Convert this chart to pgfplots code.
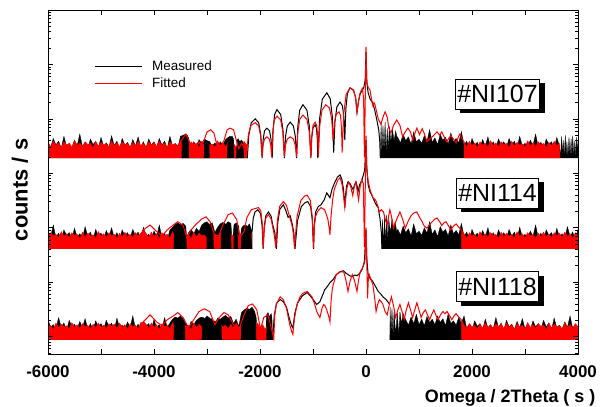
\documentclass[border=0pt]{standalone}
\usepackage{fontspec}
\setmainfont{Liberation Sans}
\usepackage{pgfplots}
\pgfplotsset{compat=1.18}
\usetikzlibrary{shadows}

\pgfplotsset{
    curve/.style={scale only axis, width=530bp, height=344bp,
        xmin=-6000, xmax=4000, hide axis, no markers},
    blkfill/.style={draw=black, fill=black, line width=0.3bp},
    blob/.style={draw=none, fill=black},
    redfill/.style={draw=red, fill=red, line width=0.3bp},
    blkline/.style={black, line width=1bp},
    redline/.style={red, line width=1bp},
}
\tikzset{lbl/.style={draw=black, fill=white, line width=0.6bp,
    font=\fontsize{25}{28}\selectfont, inner xsep=2bp, inner ysep=0bp,
    minimum height=30bp, text height=18bp, text depth=0bp,
    drop shadow={shadow xshift=5bp, shadow yshift=-4bp, fill=black, opacity=1}}}

\begin{document}
\begin{tikzpicture}

% #NI107 (y = log10 counts above its background)
\begin{axis}[curve, name=top, ymin=-3.60, ymax=2.72]
\addplot[blkfill] coordinates {(-6000,0) (-6000,0.30) (-5950,0.20) (-5900,0.36) (-5850,0.24) (-5800,0.31) (-5750,0.18) (-5700,0.40) (-5650,0.22) (-5600,0.27) (-5550,0.19) (-5500,0.33) (-5450,0.23) (-5400,0.44) (-5350,0.21) (-5300,0.29) (-5250,0.17) (-5200,0.35) (-5150,0.25) (-5100,0.30) (-5050,0.18) (-5000,0.38) (-4950,0.22) (-4900,0.28) (-4850,0.20) (-4800,0.41) (-4750,0.23) (-4700,0.31) (-4650,0.17) (-4600,0.36) (-4550,0.24) (-4500,0.29) (-4450,0.19) (-4400,0.34) (-4350,0.22) (-4300,0.39) (-4250,0.20) (-4200,0.30) (-4150,0.18) (-4100,0.35) (-4050,0.24) (-4000,0.30) (-3950,0.20) (-3900,0.36) (-3850,0.24) (-3800,0.31) (-3750,0.18) (-3700,0.40) (-3650,0.22) (-3600,0.27) (-3550,0.19) (-3500,0.40) (-3450,0.42) (-3400,0.44) (-3350,0.38) (-3300,0.17) (-3250,0.30) (-3200,0.22) (-3150,0.34) (-3100,0.27) (-3050,0.35) (-3000,0.32) (-2950,0.30) (-2900,0.22) (-2850,0.28) (-2800,0.20) (-2750,0.30) (-2700,0.24) (-2650,0.34) (-2600,0.38) (-2550,0.40) (-2500,0.36) (-2480,0) (-2440,0) (-2420,0.34) (-2380,0.30) (-2340,0.32) (-2300,0.22) (-2260,0.26) (-2240,0)};
\addplot[blkfill] coordinates {(270,0) (285,0.65) (300,0.05) (320,0.60) (340,0.10) (360,0.66) (380,0.08) (400,0.55) (420,0.15) (440,0.58) (470,0.30) (500,0.52) (530,0.32) (560,0.50) (580,0.40) (600,0.38) (650,0.28) (700,0.44) (750,0.32) (800,0.39) (850,0.26) (900,0.48) (950,0.30) (1000,0.35) (1050,0.27) (1100,0.41) (1150,0.31) (1200,0.52) (1250,0.29) (1300,0.37) (1350,0.25) (1400,0.43) (1450,0.33) (1500,0.38) (1550,0.26) (1600,0.46) (1650,0.30) (1700,0.36) (1750,0.28) (1800,0.49) (1850,0.23) (1900,0.31) (1950,0.17) (2000,0.36) (2050,0.24) (2100,0.29) (2150,0.19) (2200,0.34) (2250,0.22) (2300,0.39) (2350,0.20) (2400,0.30) (2450,0.18) (2500,0.35) (2550,0.24) (2600,0.30) (2650,0.20) (2700,0.36) (2750,0.24) (2800,0.31) (2850,0.18) (2900,0.40) (2950,0.22) (3000,0.27) (3050,0.19) (3100,0.33) (3150,0.23) (3200,0.44) (3250,0.21) (3300,0.29) (3350,0.17) (3400,0.35) (3450,0.25) (3500,0.30) (3550,0.18) (3600,0.38) (3650,0.22) (3670,0.02) (3690,0.40) (3705,0.03) (3720,0.33) (3740,0.02) (3760,0.42) (3775,0.05) (3790,0.30) (3810,0.02) (3830,0.38) (3850,0.04) (3870,0.35) (3885,0.02) (3900,0.41) (3920,0.03) (3940,0.32) (3960,0.02) (3975,0.39) (3990,0.04) (4000,0.30) (4000,0)};
\addplot[redfill] coordinates {(-6000,0) (-6000,0.29) (-5950,0.21) (-5900,0.31) (-5850,0.23) (-5800,0.28) (-5750,0.19) (-5700,0.30) (-5650,0.24) (-5600,0.27) (-5550,0.20) (-5500,0.32) (-5450,0.23) (-5400,0.28) (-5350,0.21) (-5300,0.30) (-5250,0.25) (-5200,0.27) (-5150,0.19) (-5100,0.31) (-5050,0.22) (-5000,0.29) (-4950,0.24) (-4900,0.26) (-4850,0.20) (-4800,0.32) (-4750,0.23) (-4700,0.28) (-4650,0.21) (-4600,0.30) (-4550,0.24) (-4500,0.27) (-4450,0.20) (-4400,0.29) (-4350,0.22) (-4300,0.31) (-4250,0.23) (-4200,0.27) (-4150,0.21) (-4100,0.30) (-4050,0.24) (-4000,0.29) (-3950,0.21) (-3900,0.31) (-3850,0.23) (-3800,0.28) (-3750,0.19) (-3700,0.30) (-3650,0.24) (-3600,0.26) (-3550,0.20) (-3500,0.32) (-3450,0.23) (-3400,0.28) (-3350,0.21) (-3300,0.30) (-3250,0.25) (-3200,0.27) (-3150,0.19) (-3100,0.31) (-3050,0.22) (-3000,0.29) (-2950,0.24) (-2900,0.26) (-2850,0.20) (-2800,0.32) (-2750,0.23) (-2700,0.28) (-2650,0.21) (-2600,0.30) (-2550,0.24) (-2500,0.27) (-2450,0.20) (-2400,0.29) (-2350,0.22) (-2300,0.31) (-2250,0.23) (-2240,0)};
\addplot[redfill] coordinates {(1850,0) (1850,0.30) (1900,0.21) (1950,0.31) (2000,0.23) (2050,0.28) (2100,0.19) (2150,0.30) (2200,0.24) (2250,0.27) (2300,0.20) (2350,0.32) (2400,0.23) (2450,0.28) (2500,0.21) (2550,0.30) (2600,0.25) (2650,0.27) (2700,0.19) (2750,0.31) (2800,0.22) (2850,0.29) (2900,0.24) (2950,0.26) (3000,0.20) (3050,0.32) (3100,0.23) (3150,0.28) (3200,0.21) (3250,0.30) (3300,0.24) (3350,0.27) (3400,0.20) (3450,0.29) (3500,0.22) (3550,0.31) (3600,0.23) (3650,0.27) (3660,0)};
\addplot[blob] coordinates {(-3480,0) (-3470,0.38) (-3450,0.42) (-3430,0.36) (-3410,0.44) (-3390,0.40) (-3370,0.43) (-3350,0.35) (-3340,0) (-3060,0) (-3050,0.30) (-3020,0.33) (-2990,0.28) (-2960,0.32) (-2950,0) (-2620,0) (-2610,0.36) (-2580,0.40) (-2550,0.38) (-2520,0.41) (-2500,0.30) (-2490,0) (-2450,0) (-2440,0.33) (-2410,0.36) (-2380,0.30) (-2350,0.34) (-2320,0.28) (-2300,0)};
\addplot[blkline] coordinates {(-2240,0) (-2210,0.43) (-2165,0.65) (-2090,0.72) (-2025,0.65) (-1986,0.43) (-1960,0) (-1942,0.33) (-1915,0.50) (-1870,0.55) (-1820,0.50) (-1790,0.33) (-1770,0) (-1752,0.53) (-1725,0.80) (-1680,0.89) (-1610,0.80) (-1568,0.53) (-1540,0) (-1518,0.40) (-1485,0.59) (-1430,0.66) (-1370,0.59) (-1334,0.40) (-1310,0) (-1286,0.59) (-1250,0.88) (-1190,0.98) (-1115,0.88) (-1070,0.59) (-1040,0) (-1024,0.37) (-1000,0.55) (-960,0.61) (-935,0.55) (-920,0.37) (-910,0) (-876,0.72) (-825,1.08) (-740,1.20) (-675,1.09) (-636,0.76) (-610,0.10) (-586,0.66) (-550,0.94) (-490,1.03) (-445,0.96) (-418,0.75) (-400,0.33) (-380,0.91) (-350,1.19) (-300,1.29) (-235,1.25) (-196,1.11) (-170,0.85) (-140,1.05) (-110,1.18) (-70,1.24) (-40,1.30) (-15,1.44) (0,1.95) (15,1.40) (40,1.20) (80,1.08) (120,1.02) (160,0.90) (200,0.72) (240,0.52) (260,0.30) (270,0)};
\addplot[redline] coordinates {(-3600,0.26) (-3550,0.22) (-3500,0.30) (-3450,0.37) (-3400,0.44) (-3350,0.34) (-3300,0.12) (-3250,0.27) (-3200,0.20) (-3150,0.30) (-3100,0.22) (-3050,0.34) (-3000,0.48) (-2930,0.52) (-2870,0.46) (-2820,0.27) (-2780,0.12) (-2730,0.24) (-2680,0.32) (-2620,0.52) (-2560,0.55) (-2500,0.52) (-2450,0.34) (-2400,0.17) (-2350,0.27) (-2300,0.20) (-2250,0.12) (-2218,0.44) (-2170,0.60) (-2090,0.65) (-2025,0.59) (-1986,0.40) (-1960,0.02) (-1942,0.24) (-1915,0.35) (-1870,0.39) (-1825,0.35) (-1798,0.24) (-1780,0.02) (-1760,0.47) (-1730,0.70) (-1680,0.77) (-1610,0.70) (-1568,0.47) (-1540,0.02) (-1518,0.24) (-1485,0.35) (-1430,0.39) (-1370,0.35) (-1334,0.24) (-1310,0.02) (-1286,0.48) (-1250,0.71) (-1190,0.79) (-1115,0.71) (-1070,0.48) (-1040,0.02) (-1024,0.40) (-1000,0.60) (-960,0.66) (-930,0.60) (-912,0.40) (-900,0.02) (-872,0.60) (-830,0.88) (-760,0.98) (-690,0.92) (-648,0.72) (-620,0.33) (-598,0.64) (-565,0.80) (-510,0.85) (-480,0.78) (-462,0.55) (-450,0.10) (-420,0.81) (-375,1.17) (-300,1.29) (-235,1.24) (-196,1.11) (-170,0.83) (-140,1.05) (-110,1.20) (-70,1.28) (-45,1.10) (-30,0.02) (0,2.04) (15,1.40) (40,1.30) (75,1.25) (110,1.05) (130,0.96) (150,1.02) (170,0.98) (200,0.85) (230,0.72) (280,0.62) (320,0.75) (360,0.85) (400,0.75) (430,0.55) (470,0.46) (520,0.60) (580,0.70) (640,0.60) (690,0.39) (740,0.48) (790,0.55) (840,0.48) (880,0.33) (920,0.45) (960,0.55) (1010,0.43) (1060,0.54) (1100,0.45) (1150,0.30) (1200,0.35) (1250,0.39) (1300,0.44) (1340,0.48) (1390,0.42) (1430,0.48) (1480,0.38) (1520,0.30) (1560,0.36) (1600,0.41) (1650,0.35) (1700,0.28) (1740,0.38) (1770,0.44) (1810,0.36) (1850,0.30)};
\end{axis}

% #NI114
\begin{axis}[curve, at={(top.south west)}, anchor=south west, ymin=-1.93, ymax=4.39]
\addplot[blkfill] coordinates {(-6000,0) (-6000,0.33) (-5950,0.23) (-5900,0.44) (-5850,0.21) (-5800,0.29) (-5750,0.17) (-5700,0.35) (-5650,0.25) (-5600,0.30) (-5550,0.18) (-5500,0.38) (-5450,0.22) (-5400,0.28) (-5350,0.20) (-5300,0.41) (-5250,0.23) (-5200,0.31) (-5150,0.17) (-5100,0.36) (-5050,0.24) (-5000,0.29) (-4950,0.19) (-4900,0.34) (-4850,0.22) (-4800,0.39) (-4750,0.20) (-4700,0.30) (-4650,0.18) (-4600,0.35) (-4550,0.24) (-4500,0.30) (-4450,0.20) (-4400,0.36) (-4350,0.24) (-4300,0.31) (-4250,0.18) (-4200,0.40) (-4150,0.22) (-4100,0.27) (-4050,0.19) (-4000,0.33) (-3950,0.23) (-3900,0.44) (-3850,0.21) (-3800,0.29) (-3750,0.17) (-3700,0.35) (-3650,0.40) (-3600,0.45) (-3550,0.48) (-3500,0.44) (-3450,0.47) (-3400,0.42) (-3380,0.10) (-3350,0.30) (-3300,0.36) (-3250,0.28) (-3200,0.38) (-3150,0.32) (-3100,0.44) (-3050,0.48) (-3000,0.50) (-2950,0.45) (-2900,0.48) (-2850,0.30) (-2800,0.40) (-2750,0.46) (-2700,0.49) (-2650,0.44) (-2600,0.50) (-2550,0.47) (-2520,0.12) (-2490,0.45) (-2450,0.48) (-2400,0.42) (-2380,0.15) (-2350,0.38) (-2300,0.44) (-2250,0.40) (-2200,0.46) (-2150,0.32) (-2150,0)};
\addplot[blkfill] coordinates {(300,0) (310,0.55) (330,0.08) (350,0.60) (370,0.10) (390,0.62) (410,0.12) (430,0.55) (460,0.30) (490,0.55) (520,0.38) (550,0.50) (580,0.32) (600,0.36) (650,0.26) (700,0.42) (750,0.30) (800,0.37) (850,0.24) (900,0.46) (950,0.28) (1000,0.33) (1050,0.25) (1100,0.39) (1150,0.29) (1200,0.50) (1250,0.27) (1300,0.35) (1350,0.23) (1400,0.41) (1450,0.31) (1500,0.36) (1550,0.24) (1600,0.44) (1650,0.28) (1700,0.34) (1750,0.26) (1800,0.47) (1850,0.23) (1900,0.31) (1950,0.17) (2000,0.36) (2050,0.24) (2100,0.29) (2150,0.19) (2200,0.34) (2250,0.22) (2300,0.39) (2350,0.20) (2400,0.30) (2450,0.18) (2500,0.35) (2550,0.24) (2600,0.30) (2650,0.20) (2700,0.36) (2750,0.24) (2800,0.31) (2850,0.18) (2900,0.40) (2950,0.22) (3000,0.27) (3050,0.19) (3100,0.33) (3150,0.23) (3200,0.44) (3250,0.21) (3300,0.29) (3350,0.17) (3400,0.35) (3450,0.25) (3500,0.30) (3550,0.18) (3600,0.38) (3650,0.22) (3700,0.28) (3750,0.20) (3800,0.41) (3850,0.23) (3900,0.31) (3950,0.17) (4000,0.36) (4000,0)};
\addplot[redfill] coordinates {(-6000,0) (-6000,0.19) (-5950,0.30) (-5900,0.24) (-5850,0.27) (-5800,0.20) (-5750,0.32) (-5700,0.23) (-5650,0.28) (-5600,0.21) (-5550,0.30) (-5500,0.25) (-5450,0.27) (-5400,0.19) (-5350,0.31) (-5300,0.22) (-5250,0.29) (-5200,0.24) (-5150,0.26) (-5100,0.20) (-5050,0.32) (-5000,0.23) (-4950,0.28) (-4900,0.21) (-4850,0.30) (-4800,0.24) (-4750,0.27) (-4700,0.20) (-4650,0.29) (-4600,0.22) (-4550,0.31) (-4500,0.23) (-4450,0.27) (-4400,0.21) (-4350,0.30) (-4300,0.24) (-4250,0.29) (-4200,0.35) (-4150,0.29) (-4100,0.21) (-4050,0.31) (-4000,0.23) (-3950,0.28) (-3900,0.19) (-3850,0.30) (-3800,0.24) (-3750,0.27) (-3700,0.20) (-3650,0.32) (-3600,0.23) (-3550,0.28) (-3500,0.21) (-3450,0.30) (-3400,0.25) (-3350,0.27) (-3300,0.19) (-3250,0.31) (-3200,0.22) (-3150,0.29) (-3100,0.24) (-3050,0.26) (-3000,0.20) (-2950,0.32) (-2900,0.23) (-2850,0.28) (-2800,0.21) (-2750,0.30) (-2700,0.24) (-2650,0.27) (-2600,0.20) (-2550,0.29) (-2500,0.22) (-2450,0.31) (-2400,0.23) (-2350,0.27) (-2300,0.21) (-2250,0.30) (-2200,0.24) (-2150,0.29) (-2150,0)};
\addplot[redfill] coordinates {(1800,0) (1800,0.35) (1850,0.28) (1900,0.19) (1950,0.30) (2000,0.24) (2050,0.27) (2100,0.20) (2150,0.32) (2200,0.23) (2250,0.28) (2300,0.21) (2350,0.30) (2400,0.25) (2450,0.27) (2500,0.19) (2550,0.31) (2600,0.22) (2650,0.29) (2700,0.24) (2750,0.26) (2800,0.20) (2850,0.32) (2900,0.23) (2950,0.28) (3000,0.21) (3050,0.30) (3100,0.24) (3150,0.27) (3200,0.20) (3250,0.29) (3300,0.22) (3350,0.31) (3400,0.23) (3450,0.27) (3500,0.21) (3550,0.30) (3600,0.24) (3650,0.29) (3700,0.21) (3750,0.31) (3800,0.23) (3850,0.28) (3900,0.19) (3950,0.30) (4000,0.24) (4000,0)};
\addplot[blob] coordinates {(-3630,0) (-3620,0.40) (-3600,0.45) (-3570,0.42) (-3550,0.48) (-3520,0.43) (-3500,0.46) (-3470,0.40) (-3440,0.44) (-3410,0.38) (-3390,0.30) (-3380,0) (-3010,0) (-3000,0.46) (-2970,0.42) (-2940,0.48) (-2910,0.40) (-2890,0.44) (-2870,0) (-2740,0) (-2730,0.40) (-2700,0.44) (-2670,0.48) (-2640,0.45) (-2610,0.50) (-2580,0.46) (-2550,0.48) (-2540,0) (-2500,0) (-2490,0.42) (-2460,0.46) (-2430,0.40) (-2410,0) (-2360,0) (-2350,0.36) (-2320,0.42) (-2290,0.38) (-2260,0.44) (-2230,0.40) (-2200,0.46) (-2170,0.35) (-2150,0)};
\addplot[blkline] coordinates {(-2150,0.32) (-2128,0.56) (-2095,0.68) (-2040,0.72) (-1990,0.65) (-1960,0.43) (-1940,0) (-1920,0.41) (-1890,0.61) (-1840,0.68) (-1790,0.60) (-1760,0.44) (-1720,0.30) (-1690,0) (-1664,0.49) (-1625,0.73) (-1560,0.81) (-1510,0.70) (-1470,0.58) (-1430,0.61) (-1390,0.45) (-1360,0.28) (-1340,0) (-1292,0.52) (-1220,0.78) (-1150,0.85) (-1100,0.87) (-1045,0.78) (-1012,0.52) (-990,0) (-975,0.45) (-950,0.68) (-900,0.78) (-850,0.81) (-790,0.90) (-740,1.03) (-700,0.97) (-680,0.94) (-640,1.10) (-590,1.22) (-540,1.32) (-490,1.36) (-455,1.28) (-425,1.10) (-400,0.76) (-385,1.00) (-365,1.16) (-340,1.23) (-300,1.20) (-245,1.09) (-215,1.18) (-190,1.23) (-165,1.15) (-150,1.05) (-120,1.18) (-75,1.27) (-25,1.45) (0,2.00) (15,1.50) (40,1.18) (75,1.05) (110,0.99) (140,0.92) (170,0.85) (200,0.80) (230,0.76) (265,0.55) (290,0.30) (300,0)};
\addplot[redline] coordinates {(-4200,0.35) (-4075,0.44) (-3950,0.32) (-3850,0.24) (-3750,0.35) (-3650,0.43) (-3550,0.50) (-3450,0.43) (-3380,0.21) (-3300,0.35) (-3200,0.46) (-3100,0.55) (-3020,0.59) (-2940,0.50) (-2860,0.26) (-2780,0.24) (-2700,0.44) (-2600,0.63) (-2520,0.66) (-2440,0.54) (-2380,0.21) (-2300,0.32) (-2246,0.58) (-2165,0.72) (-2100,0.74) (-2030,0.76) (-1985,0.70) (-1958,0.48) (-1940,0.02) (-1920,0.38) (-1890,0.57) (-1840,0.63) (-1790,0.55) (-1760,0.40) (-1730,0.25) (-1700,0.02) (-1672,0.52) (-1630,0.78) (-1560,0.87) (-1500,0.80) (-1450,0.62) (-1400,0.45) (-1370,0.28) (-1350,0.02) (-1302,0.59) (-1230,0.89) (-1160,0.97) (-1110,0.99) (-1050,0.89) (-1014,0.59) (-990,0.02) (-975,0.42) (-950,0.60) (-920,0.68) (-850,0.76) (-780,0.72) (-720,0.55) (-690,0.35) (-680,0.26) (-660,0.60) (-630,0.90) (-600,1.09) (-530,1.27) (-490,1.31) (-455,1.20) (-425,1.00) (-400,0.76) (-380,0.95) (-360,1.12) (-330,1.23) (-290,1.15) (-250,0.98) (-220,1.15) (-190,1.23) (-165,1.05) (-140,0.90) (-110,1.15) (-80,1.27) (-50,1.20) (-30,0.04) (0,2.08) (15,1.45) (40,1.25) (75,1.09) (130,0.94) (180,0.90) (220,0.80) (250,0.68) (290,0.72) (330,0.68) (370,0.52) (400,0.44) (430,0.62) (450,0.72) (480,0.60) (520,0.38) (580,0.55) (640,0.68) (690,0.55) (740,0.38) (800,0.52) (850,0.61) (900,0.66) (960,0.68) (1010,0.58) (1060,0.50) (1100,0.42) (1150,0.38) (1200,0.45) (1250,0.50) (1300,0.55) (1340,0.57) (1390,0.50) (1430,0.43) (1470,0.48) (1510,0.50) (1560,0.42) (1600,0.35) (1650,0.42) (1700,0.46) (1750,0.40) (1800,0.35)};
\end{axis}

% #NI118
\begin{axis}[curve, at={(top.south west)}, anchor=south west, ymin=-0.26, ymax=6.06]
\addplot[blkfill] coordinates {(-6000,0) (-6000,0.38) (-5950,0.22) (-5900,0.28) (-5850,0.20) (-5800,0.41) (-5750,0.23) (-5700,0.31) (-5650,0.17) (-5600,0.36) (-5550,0.24) (-5500,0.29) (-5450,0.19) (-5400,0.34) (-5350,0.22) (-5300,0.39) (-5250,0.20) (-5200,0.30) (-5150,0.18) (-5100,0.35) (-5050,0.24) (-5000,0.30) (-4950,0.20) (-4900,0.36) (-4850,0.24) (-4800,0.31) (-4750,0.18) (-4700,0.40) (-4650,0.22) (-4600,0.27) (-4550,0.19) (-4500,0.33) (-4450,0.23) (-4400,0.44) (-4350,0.21) (-4300,0.29) (-4250,0.17) (-4200,0.35) (-4150,0.25) (-4100,0.30) (-4050,0.18) (-4000,0.38) (-3950,0.22) (-3900,0.28) (-3850,0.20) (-3800,0.41) (-3750,0.23) (-3700,0.31) (-3650,0.38) (-3600,0.42) (-3550,0.40) (-3500,0.44) (-3450,0.38) (-3400,0.30) (-3350,0.20) (-3300,0.34) (-3250,0.28) (-3200,0.36) (-3150,0.40) (-3100,0.42) (-3050,0.38) (-3000,0.44) (-2950,0.40) (-2900,0.36) (-2850,0.30) (-2800,0.40) (-2750,0.38) (-2700,0.42) (-2650,0.45) (-2600,0.40) (-2550,0.43) (-2500,0.30) (-2450,0.38) (-2400,0.25) (-2350,0.50) (-2300,0.55) (-2250,0.58) (-2200,0.56) (-2150,0.60) (-2100,0.52) (-2070,0.40) (-2060,0) (-1890,0) (-1880,0.45) (-1850,0.50) (-1820,0.42) (-1790,0.48) (-1760,0)};
\addplot[blkfill] coordinates {(450,0) (455,0.60) (470,0.05) (490,0.58) (510,0.05) (530,0.55) (560,0.10) (590,0.50) (620,0.08) (640,0.52) (670,0.30) (700,0.48) (750,0.37) (800,0.27) (850,0.42) (900,0.30) (950,0.47) (1000,0.28) (1050,0.38) (1100,0.26) (1150,0.43) (1200,0.32) (1250,0.38) (1300,0.28) (1350,0.44) (1400,0.32) (1450,0.39) (1500,0.26) (1550,0.48) (1600,0.30) (1650,0.35) (1700,0.27) (1750,0.41) (1800,0.31) (1850,0.44) (1900,0.21) (1950,0.29) (2000,0.17) (2050,0.35) (2100,0.25) (2150,0.30) (2200,0.18) (2250,0.38) (2300,0.22) (2350,0.28) (2400,0.20) (2450,0.41) (2500,0.23) (2550,0.31) (2600,0.17) (2650,0.36) (2700,0.24) (2750,0.29) (2800,0.19) (2850,0.34) (2900,0.22) (2950,0.39) (3000,0.20) (3050,0.30) (3100,0.18) (3150,0.35) (3200,0.24) (3250,0.30) (3300,0.20) (3350,0.36) (3400,0.24) (3450,0.31) (3500,0.18) (3550,0.40) (3600,0.22) (3650,0.27) (3700,0.19) (3750,0.33) (3800,0.23) (3850,0.44) (3900,0.21) (3950,0.29) (4000,0.17) (4000,0)};
\addplot[redfill] coordinates {(-6000,0) (-6000,0.25) (-5950,0.27) (-5900,0.19) (-5850,0.31) (-5800,0.22) (-5750,0.29) (-5700,0.24) (-5650,0.26) (-5600,0.20) (-5550,0.32) (-5500,0.23) (-5450,0.28) (-5400,0.21) (-5350,0.30) (-5300,0.24) (-5250,0.27) (-5200,0.20) (-5150,0.29) (-5100,0.22) (-5050,0.31) (-5000,0.23) (-4950,0.27) (-4900,0.21) (-4850,0.30) (-4800,0.24) (-4750,0.29) (-4700,0.21) (-4650,0.31) (-4600,0.23) (-4550,0.28) (-4500,0.19) (-4450,0.30) (-4400,0.24) (-4350,0.27) (-4300,0.20) (-4250,0.32) (-4200,0.33) (-4150,0.29) (-4100,0.21) (-4050,0.31) (-4000,0.23) (-3950,0.28) (-3900,0.19) (-3850,0.30) (-3800,0.24) (-3750,0.27) (-3700,0.20) (-3650,0.32) (-3600,0.23) (-3550,0.28) (-3500,0.21) (-3450,0.30) (-3400,0.25) (-3350,0.27) (-3300,0.19) (-3250,0.31) (-3200,0.22) (-3150,0.29) (-3100,0.24) (-3050,0.26) (-3000,0.20) (-2950,0.32) (-2900,0.23) (-2850,0.28) (-2800,0.21) (-2750,0.30) (-2700,0.24) (-2650,0.27) (-2600,0.20) (-2550,0.29) (-2500,0.22) (-2450,0.31) (-2400,0.23) (-2350,0.27) (-2300,0.21) (-2250,0.30) (-2200,0.24) (-2150,0.29) (-2100,0.21) (-2050,0.31) (-2000,0.23) (-1950,0.28) (-1900,0.19) (-1850,0.30) (-1800,0.24) (-1760,0.10) (-1760,0)};
\addplot[redfill] coordinates {(1800,0) (1800,0.37) (1850,0.28) (1900,0.21) (1950,0.30) (2000,0.24) (2050,0.27) (2100,0.20) (2150,0.29) (2200,0.22) (2250,0.31) (2300,0.23) (2350,0.27) (2400,0.21) (2450,0.30) (2500,0.24) (2550,0.29) (2600,0.21) (2650,0.31) (2700,0.23) (2750,0.28) (2800,0.19) (2850,0.30) (2900,0.24) (2950,0.27) (3000,0.20) (3050,0.32) (3100,0.23) (3150,0.28) (3200,0.21) (3250,0.30) (3300,0.25) (3350,0.27) (3400,0.19) (3450,0.31) (3500,0.22) (3550,0.29) (3600,0.24) (3650,0.26) (3700,0.20) (3750,0.32) (3800,0.23) (3850,0.28) (3900,0.21) (3950,0.30) (4000,0.24) (4000,0)};
\addplot[blob] coordinates {(-3630,0) (-3620,0.36) (-3590,0.40) (-3560,0.37) (-3530,0.42) (-3500,0.38) (-3470,0.41) (-3440,0.35) (-3420,0.38) (-3410,0) (-3100,0) (-3090,0.38) (-3060,0.42) (-3030,0.36) (-3000,0.41) (-2970,0.38) (-2940,0.35) (-2910,0.40) (-2880,0.32) (-2850,0.36) (-2820,0.30) (-2790,0.38) (-2760,0.35) (-2730,0.40) (-2720,0) (-2360,0) (-2350,0.48) (-2320,0.52) (-2290,0.55) (-2260,0.50) (-2230,0.57) (-2200,0.54) (-2170,0.58) (-2140,0.52) (-2110,0.50) (-2080,0.42) (-2070,0) (-1880,0) (-1870,0.45) (-1850,0.50) (-1820,0.42) (-1790,0.48) (-1770,0.40) (-1760,0)};
\addplot[blkline] coordinates {(-1760,0) (-1732,0.44) (-1690,0.67) (-1620,0.74) (-1560,0.70) (-1500,0.60) (-1440,0.37) (-1400,0.25) (-1380,0.22) (-1340,0.50) (-1290,0.68) (-1200,0.81) (-1110,0.87) (-1020,0.77) (-930,0.65) (-870,0.70) (-820,0.82) (-780,0.92) (-730,0.98) (-680,1.05) (-620,1.11) (-560,1.20) (-490,1.25) (-430,1.27) (-370,1.22) (-310,1.18) (-260,1.16) (-215,1.19) (-170,1.18) (-120,1.22) (-75,1.29) (-30,1.44) (0,2.02) (15,1.50) (40,1.20) (80,1.12) (130,1.07) (180,0.98) (230,0.89) (280,0.84) (320,0.79) (380,0.74) (450,0.65)};
\addplot[redline] coordinates {(-4200,0.33) (-4075,0.46) (-3950,0.33) (-3850,0.26) (-3750,0.37) (-3650,0.43) (-3550,0.50) (-3450,0.41) (-3350,0.22) (-3250,0.37) (-3150,0.52) (-3050,0.57) (-2950,0.52) (-2850,0.28) (-2770,0.41) (-2680,0.50) (-2600,0.46) (-2500,0.28) (-2400,0.19) (-2300,0.46) (-2220,0.63) (-2140,0.66) (-2060,0.55) (-1990,0.19) (-1930,0.41) (-1850,0.46) (-1780,0.19) (-1740,0.02) (-1722,0.45) (-1690,0.66) (-1620,0.79) (-1560,0.74) (-1500,0.58) (-1440,0.28) (-1400,0.15) (-1380,0.10) (-1350,0.40) (-1300,0.65) (-1250,0.78) (-1200,0.85) (-1110,0.89) (-1020,0.79) (-970,0.66) (-930,0.52) (-870,0.41) (-830,0.58) (-800,0.65) (-770,0.62) (-740,0.55) (-700,0.42) (-680,0.33) (-660,0.70) (-640,0.90) (-620,1.01) (-560,1.20) (-490,1.25) (-420,1.25) (-380,1.10) (-340,0.89) (-300,1.08) (-260,1.20) (-220,1.10) (-170,0.89) (-140,1.10) (-110,1.25) (-60,1.33) (-20,1.44) (0,2.06) (15,1.44) (30,0.76) (45,1.15) (60,1.20) (100,1.10) (130,1.01) (160,0.80) (190,0.52) (220,0.65) (250,0.74) (290,0.70) (320,0.65) (360,0.52) (400,0.46) (440,0.65) (480,0.79) (520,0.62) (560,0.41) (600,0.55) (640,0.65) (680,0.52) (720,0.37) (760,0.55) (800,0.68) (840,0.55) (880,0.41) (920,0.55) (960,0.68) (1000,0.55) (1040,0.41) (1080,0.50) (1120,0.55) (1160,0.46) (1200,0.37) (1240,0.47) (1280,0.55) (1320,0.45) (1360,0.37) (1400,0.45) (1450,0.52) (1490,0.48) (1530,0.52) (1580,0.44) (1620,0.37) (1660,0.44) (1700,0.48) (1750,0.42) (1800,0.37)};
\end{axis}

% frame, log ticks (decades), labels, legend
\begin{axis}[
    at={(top.south west)}, anchor=south west,
    scale only axis, width=530bp, height=344bp,
    xmin=-6000, xmax=4000, ymin=0.68, ymax=7,
    axis line style={line width=0.9bp},
    tick style={black, line width=0.6bp},
    tick align=inside, tick pos=both,
    major tick length=5bp, minor tick length=3bp,
    xtick={-6000,-5000,...,4000},
    xticklabels={-6000,,-4000,,-2000,,0,,2000,,4000},
    xticklabel style={font=\fontsize{17}{20}\selectfont\bfseries,
        anchor=base, inner sep=0bp, yshift=-23bp},
    ytick={1,2,3,4,5,6,7}, yticklabels={},
    minor ytick={0.699,0.778,0.845,0.903,0.954,
        1.301,1.477,1.602,1.699,1.778,1.845,1.903,1.954,
        2.301,2.477,2.602,2.699,2.778,2.845,2.903,2.954,
        3.301,3.477,3.602,3.699,3.778,3.845,3.903,3.954,
        4.301,4.477,4.602,4.699,4.778,4.845,4.903,4.954,
        5.301,5.477,5.602,5.699,5.778,5.845,5.903,5.954,
        6.301,6.477,6.602,6.699,6.778,6.845,6.903,6.954},
    xlabel={Omega / 2Theta ( s )},
    xlabel style={at={(axis description cs:0.872,-0.128)}, anchor=center,
        inner sep=0bp, font=\fontsize{18}{20}\selectfont\bfseries},
    ylabel={counts / s},
    ylabel style={at={(axis description cs:-0.053,0.477)}, anchor=center,
        inner sep=0bp, font=\fontsize{22}{24}\selectfont\bfseries},
    legend style={at={(axis description cs:0.081,0.865)}, anchor=north west,
        draw=none, fill=none, font=\fontsize{13.5}{16}\selectfont,
        row sep=2bp, legend cell align=left,
        /tikz/every odd column/.append style={column sep=8bp}},
    legend image code/.code={\draw[#1] (0bp,0bp) -- (47bp,0bp);},
]
\addlegendimage{black, line width=1bp}
\addlegendentry{Measured}
\addlegendimage{red, line width=1bp}
\addlegendentry{Fitted}
\node[lbl] at (axis cs:2481,5.46) {\#NI107};
\node[lbl] at (axis cs:2481,3.64) {\#NI114};
\node[lbl] at (axis cs:2481,1.92) {\#NI118};
\end{axis}

\path ([shift={(-48bp,-52bp)}]top.south west) rectangle ([shift={(28bp,10bp)}]top.north east);
\end{tikzpicture}
\end{document}
